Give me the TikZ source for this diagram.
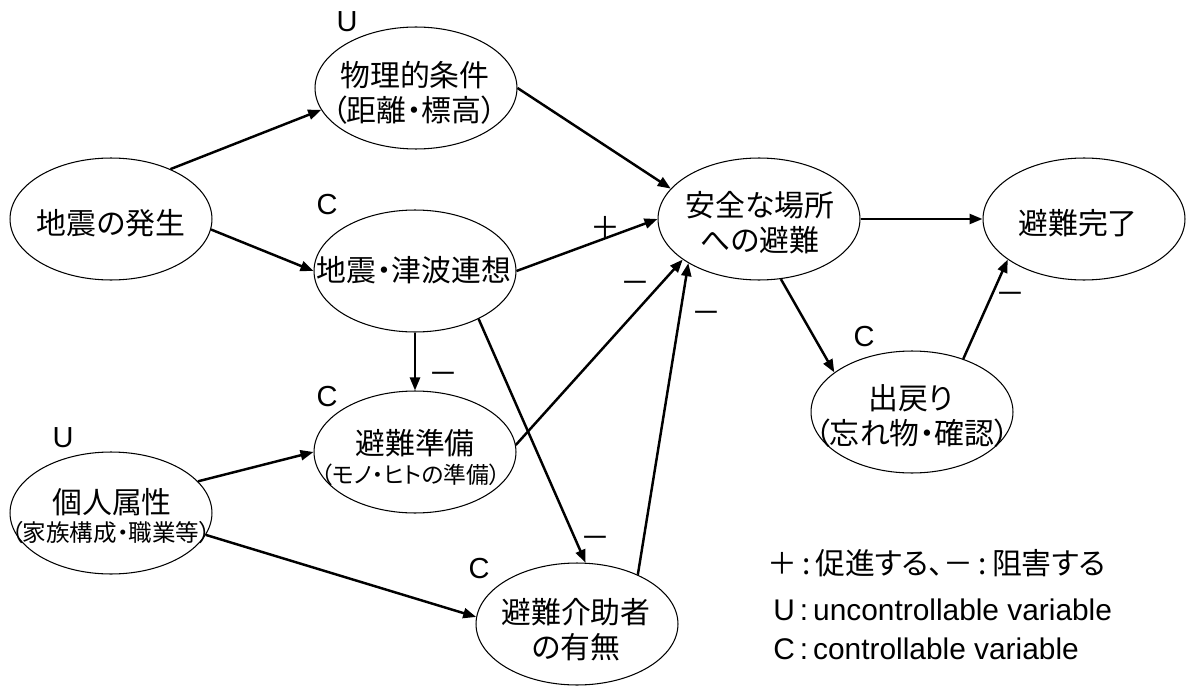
\documentclass[tikz,border=0pt]{standalone}
\usepackage{fontspec}
\setmainfont{Liberation Sans}
\newfontfamily\jp[RawFeature=+palt]{Noto Sans CJK JP}
\usetikzlibrary{shapes.geometric,arrows.meta}
\begin{document}
\begin{tikzpicture}[x=0.02cm,y=-0.02cm,
  ell/.style={draw,ellipse,line width=0.6pt,minimum width=4.04cm,minimum height=2.44cm,inner sep=0pt},
  jt/.style={font=\jp\fontsize{17}{20}\selectfont,align=center,inner sep=0pt},
  js/.style={font=\jp\fontsize{13}{15}\selectfont,align=center,inner sep=0pt},
  jm/.style={font=\jp\fontsize{13.4}{15}\selectfont,align=center,inner sep=0pt},
  lt/.style={font=\fontsize{16.5}{20}\selectfont,inner sep=0pt},
  lg/.style={font=\fontsize{17}{20}\selectfont,inner sep=0pt,anchor=west},
  arr/.style={line width=1.4pt,-{Triangle[length=0.26cm,width=0.2cm]}}
]
\useasboundingbox (0,0) rectangle (1187,686);
% ellipses
\node[ell] (A) at (111,219) {};
\node[ell] (B) at (416,88) {};
\node[ell] (Cn) at (415,271) {};
\node[ell] (D) at (415,452) {};
\node[ell] (E) at (111,513) {};
\node[ell] (F) at (577,624) {};
\node[ell] (G) at (759,219) {};
\node[ell] (H) at (1084,219) {};
\node[ell] (I) at (912,412) {};
% texts
\node[jt] (A1) at (111,223) {地震の発生};
\node[jt] (B1) at (415,75) {物理的条件};
\node[jt] (B2) at (414,110) {（距離・標高）};
\node[jt] (C1) at (414,270) {地震・津波連想};
\node[jt] (D1) at (415,443) {避難準備};
\node[js] (D2) at (411,475) {（モノ・ヒトの準備）};
\node[jt] (E1) at (112,502) {個人属性};
\node[jm] (E2) at (111,533) {（家族構成・職業等）};
\node[jt] (F1) at (576,612) {避難介助者};
\node[jt] (F2) at (576,647) {の有無};
\node[jt] (G1) at (760,205) {安全な場所};
\node[jt] (G2) at (760,240) {への避難};
\node[jt] (H1) at (1078,223) {避難完了};
\node[jt] (I1) at (911,398) {出戻り};
\node[jt] (I2) at (912,433) {（忘れ物・確認）};
% U / C labels
\node[lt] (uB) at (347,22) {U};
\node[lt] (cC) at (327,205) {C};
\node[lt] (cD) at (327,397) {C};
\node[lt] (uE) at (63,438) {U};
\node[lt] (cF) at (479,569) {C};
\node[lt] (cI) at (864,337) {C};
% connectors
\draw[arr] (A.40) -- (B.193);
\draw[arr] (A.-6) -- (Cn.180);
\draw[arr] (B.0) -- (G.161);
\draw[arr] (Cn.0) -- (G.180);
\draw[arr] (D.4) -- (G.208);
\draw[arr] (F.39) -- (G.212);
\draw[arr] (Cn.270) -- (D.90);
\draw[arr] (Cn.-37) -- (F.82);
\draw[arr] (E.20) -- (D.180);
\draw[arr] (E.-13) -- (F.176);
\draw[arr] (G.0) -- (H.180);
\draw[arr] (G.-70) -- (I.153);
\draw[arr] (I.46) -- (H.208);
% signs
\node[jt] (s1) at (605,227) {＋};
\node[jt] (s2) at (635,287) {－};
\node[jt] (s3) at (706,317) {－};
\node[jt] (s4) at (443,378) {－};
\node[jt] (s5) at (595,542) {－};
\node[jt] (s6) at (1010,298) {－};
% legend
\node[jt,anchor=west] (L1) at (767,563) {＋\,:\,促進する、－\,:\,阻害する};
\node[lg] (L2) at (773,610) {U\,:\,uncontrollable variable};
\node[lg] (L3) at (773,649) {C\,:\,controllable variable};
\end{tikzpicture}
\end{document}
